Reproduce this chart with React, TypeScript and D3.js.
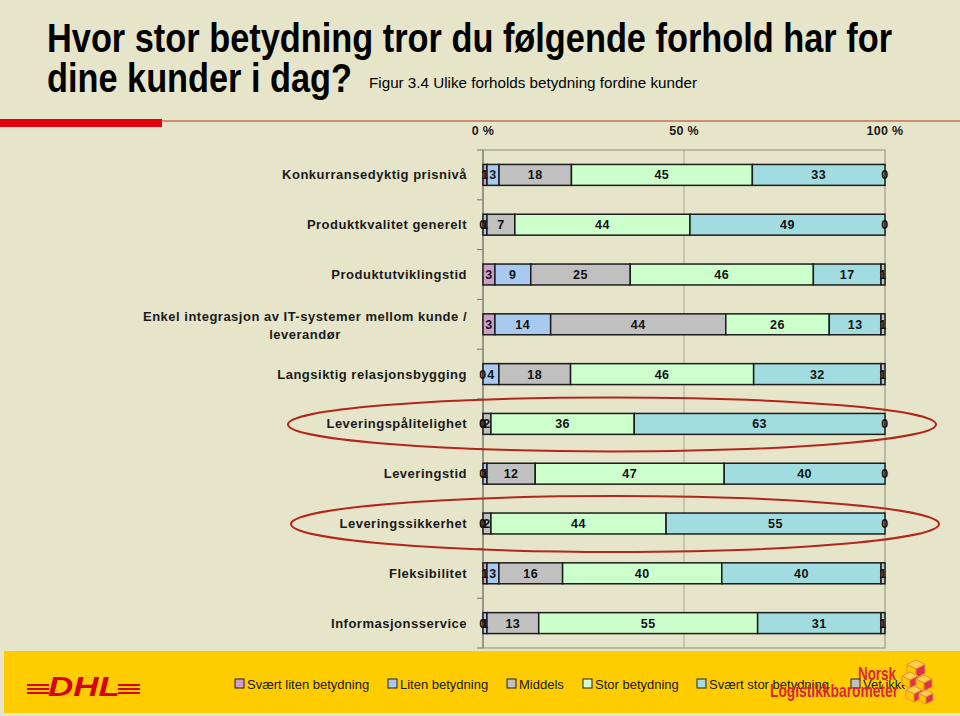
import React from "react";
import * as d3 from "d3";

const categories = [
  "Konkurransedyktig prisnivå",
  "Produktkvalitet generelt",
  "Produktutviklingstid",
  "Enkel integrasjon av IT-systemer mellom kunde /\nleverandør",
  "Langsiktig relasjonsbygging",
  "Leveringspålitelighet",
  "Leveringstid",
  "Leveringssikkerhet",
  "Fleksibilitet",
  "Informasjonsservice",
];
const svaertLiten = [1, 0, 3, 3, 0, 0, 0, 0, 1, 0];
const liten = [3, 1, 9, 14, 4, 0, 1, 0, 3, 1];
const middels = [18, 7, 25, 44, 18, 2, 12, 2, 16, 13];
const stor = [45, 44, 46, 26, 46, 36, 47, 44, 40, 55];
const svaertStor = [33, 49, 17, 13, 32, 63, 40, 55, 40, 31];
const vetIkke = [0, 0, 1, 1, 1, 0, 0, 0, 1, 1];

const seriesNames = [
  "Svært liten betydning",
  "Liten betydning",
  "Middels",
  "Stor betydning",
  "Svært stor betydning",
  "Vet ikke",
];
const seriesColors = ["#CC9ECC", "#A8CAF0", "#C0C0C0", "#CCFFCC", "#A0DCE0", "#C0C0C8"];
const tickValues = [0, 0.5, 1];
const tickLabels = ["0 %", "50 %", "100 %"];
const highlighted = ["Leveringspålitelighet", "Leveringssikkerhet"];

const title1 = "Hvor stor betydning tror du følgende forhold har for";
const title2 = "dine kunder i dag?";
const subtitle = "Figur 3.4 Ulike forholds betydning fordine kunder";

const keys = ["a", "b", "c", "d", "e", "f"];
const seriesData = [svaertLiten, liten, middels, stor, svaertStor, vetIkke];

const BG = "#E6E5C9";
const FONT = "'Liberation Sans', Arial, Helvetica, sans-serif";
const NARROW = "'Liberation Sans Narrow', 'Arial Narrow', 'Liberation Sans', Arial, sans-serif";

function Cube({ cx, cy, s }: { cx: number; cy: number; s: number }) {
  const top = [[cx, cy], [cx + s, cy + s / 2], [cx, cy + s], [cx - s, cy + s / 2]];
  const left = [[cx - s, cy + s / 2], [cx, cy + s], [cx, cy + 2 * s], [cx - s, cy + 1.5 * s]];
  const right = [[cx, cy + s], [cx + s, cy + s / 2], [cx + s, cy + 1.5 * s], [cx, cy + 2 * s]];
  const p = (a: number[][]) => a.map((q) => q.join(",")).join(" ");
  return (
    <g stroke="#E8903A" strokeWidth={1}>
      <polygon points={p(top)} fill="#FFD24A" />
      <polygon points={p(left)} fill="#FFC800" />
      <polygon points={p(right)} fill="#E0304A" />
    </g>
  );
}

export default function App() {
  const W = 960;
  const H = 716;
  const x = d3.scaleLinear().domain([0, 1]).range([483, 885]);
  const y = d3
    .scaleBand<string>()
    .domain(categories)
    .range([150, 648])
    .paddingInner(0.58)
    .paddingOuter(0.29);

  const rows = categories.map((c, i) => {
    const r: any = { cat: c };
    keys.forEach((k, j) => (r[k] = seriesData[j][i]));
    return r;
  });
  const stacked = d3.stack<any>().keys(keys).offset(d3.stackOffsetExpand)(rows);
  const bw = y.bandwidth();
  const gap = y.step() - bw;
  const boundaries = d3.range(categories.length + 1).map((i) => 150 + i * y.step());

  const legendX = [235, 388, 507, 583, 697, 851];

  return (
    <svg
      width={W}
      height={H}
      style={{ position: "absolute", left: 0, top: 0, display: "block" }}
      fontFamily={FONT}
    >
      <rect x={0} y={0} width={W} height={H} fill={BG} />

      {/* Title */}
      <text x={47} y={52} fontFamily={NARROW} fontWeight="bold" fontSize={41} fill="#000"
        textLength={845} lengthAdjust="spacingAndGlyphs">{title1}</text>
      <text x={47} y={92} fontFamily={NARROW} fontWeight="bold" fontSize={41} fill="#000"
        textLength={305} lengthAdjust="spacingAndGlyphs">{title2}</text>
      <text x={369} y={88} fontFamily={NARROW} fontSize={14} fill="#000"
        textLength={328} lengthAdjust="spacingAndGlyphs">{subtitle}</text>

      {/* top rule */}
      <rect x={162} y={120} width={798} height={2} fill="#CC8C78" />
      <rect x={0} y={119} width={162} height={8} fill="#E0000F" />

      {/* Axis tick labels */}
      {tickValues.map((t, i) => (
        <text key={i} x={x(t)} y={134.5} textAnchor="middle" fontSize={12.5} fontWeight="bold"
          fill="#1a1a1a" letterSpacing={0.3}>{tickLabels[i]}</text>
      ))}

      {/* plot frame + grid */}
      <line x1={x(0.5)} x2={x(0.5)} y1={150} y2={648} stroke="#A8A892" strokeWidth={1} />
      <rect x={x(0)} y={150} width={x(1) - x(0)} height={498} fill="none" stroke="#8C8C80" strokeWidth={1} />
      <line x1={x(0)} x2={x(0)} y1={150} y2={648} stroke="#77776c" strokeWidth={1} />
      {boundaries.map((b, i) => (
        <line key={i} x1={477} x2={x(0)} y1={b} y2={b} stroke="#77776c" strokeWidth={1} />
      ))}

      {/* category labels */}
      {categories.map((c) => {
        const cy = (y(c) as number) + bw / 2;
        const lines = c.split("\n");
        if (lines.length === 1) {
          return (
            <text key={c} x={467} y={cy + 4.5} textAnchor="end" fontSize={13} fontWeight="bold"
              fill="#1a1a1a" letterSpacing={0.5}>{c}</text>
          );
        }
        return (
          <g key={c}>
            <text x={305} y={cy - 3.5} textAnchor="middle" fontSize={13} fontWeight="bold"
              fill="#1a1a1a" letterSpacing={0.5}>{lines[0]}</text>
            <text x={305} y={cy + 14.5} textAnchor="middle" fontSize={13} fontWeight="bold"
              fill="#1a1a1a" letterSpacing={0.5}>{lines[1]}</text>
          </g>
        );
      })}

      {/* bars */}
      {stacked.map((s, si) => (
        <g key={si}>
          {s.map((d, i) => (
            <rect key={i} x={x(d[0])} y={y(categories[i]) as number} width={Math.max(0, x(d[1]) - x(d[0]))}
              height={bw} fill={seriesColors[si]} stroke="#1c1c1c" strokeWidth={1.5} />
          ))}
        </g>
      ))}
      {stacked.map((s, si) => (
        <g key={"l" + si}>
          {s.map((d, i) => (
            <text key={i} x={x((d[0] + d[1]) / 2)} y={(y(categories[i]) as number) + bw / 2 + 4.5}
              textAnchor="middle" fontSize={12.5} fontWeight="bold" fill="#111" letterSpacing={0.5}>
              {seriesData[si][i]}
            </text>
          ))}
        </g>
      ))}

      {/* highlight ellipses */}
      {highlighted.map((c, i) => (
        <ellipse key={c} cx={612 + i * 3} cy={(y(c) as number) + bw / 2 + 0.5} rx={324} ry={27 + i}
          fill="none" stroke="#B2261E" strokeWidth={2} />
      ))}

      {/* footer */}
      <rect x={4} y={651} width={956} height={62} fill="#FFCC00" />

      {/* DHL logo */}
      <g fill="#D40511">
        {[0, 1, 2].map((k) => (
          <rect key={"dl" + k} x={27} y={684 + k * 4} width={22} height={2} />
        ))}
        {[0, 1, 2].map((k) => (
          <rect key={"dr" + k} x={118} y={684 + k * 4} width={22} height={2} />
        ))}
        <text x={48} y={696} fontSize={27} fontWeight="900" fontStyle="italic" fontFamily={FONT}
          textLength={72} lengthAdjust="spacingAndGlyphs">DHL</text>
      </g>

      {/* legend */}
      {seriesNames.map((n, i) => (
        <g key={n}>
          <rect x={legendX[i]} y={679} width={9} height={9} fill={seriesColors[i]} stroke="#222" strokeWidth={1} />
          <text x={legendX[i] + 12} y={688.5} fontSize={13} fill="#1a1a1a">{n}</text>
        </g>
      ))}

      {/* Norsk Logistikkbarometer logo */}
      <rect x={905} y={655} width={55} height={57} fill="#FFCC00" />
      <Cube cx={916} cy={660} s={9} />
      <Cube cx={910} cy={672} s={8} />
      <Cube cx={924} cy={675} s={8} />
      <Cube cx={914} cy={686} s={8} />
      <Cube cx={926} cy={690} s={7} />
      <g fill="#D8283E" fontFamily={NARROW} fontWeight="bold">
        <text x={858} y={680} fontSize={19} textLength={38} lengthAdjust="spacingAndGlyphs">Norsk</text>
        <text x={770} y={697} fontSize={19} textLength={128} lengthAdjust="spacingAndGlyphs">Logistikkbarometer</text>
      </g>
    </svg>
  );
}
